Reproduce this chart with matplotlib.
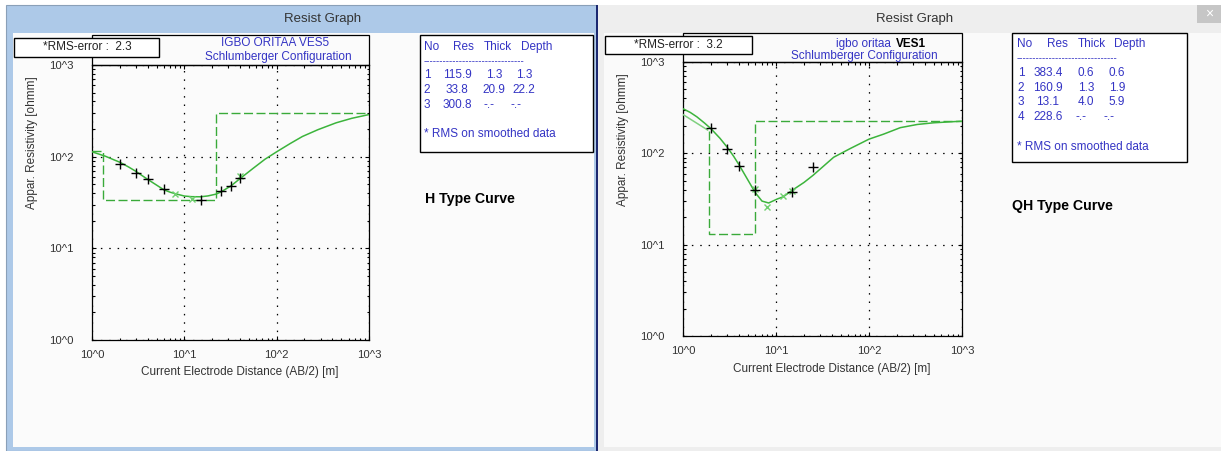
import math
import matplotlib
matplotlib.use("Agg")
import matplotlib.pyplot as plt
from matplotlib.patches import Rectangle
from matplotlib.ticker import FixedLocator, FuncFormatter, LogLocator, NullFormatter

plt.rcParams['font.family'] = ['Liberation Sans', 'DejaVu Sans']

# ---- VES5 (H type) ----
obs_ab2_5 = [2, 3, 4, 6, 15, 25, 32, 40]
obs_rho_5 = [83, 66.7, 57.5, 44.6, 33.3, 42.4, 48.4, 58.5]
smo_ab2_5 = [8, 12, 40]
smo_rho_5 = [38.7, 34.2, 61.5]
fit_ab2_5 = [1, 1.4, 1.7, 2, 2.5, 3, 3.5, 4, 5, 6, 7, 8, 10, 12, 15, 18, 22, 25, 32, 40,
             56, 75, 100, 140, 190, 280, 440, 650, 1000]
fit_rho_5 = [113, 101, 93, 87, 77, 69, 62, 56.6, 49, 43.5, 41, 39.4, 37.2, 36.6, 36.5, 37.3, 39, 41.3, 48, 57.5,
             75, 94, 113, 139, 166, 197, 234, 262, 288]
mod_ab2_5 = [1, 1.3, 1.3, 22.2, 22.2, 1000]
mod_rho_5 = [115.9, 115.9, 33.8, 33.8, 300.8, 300.8]
layers_5 = [("1", "115.9", "1.3", "1.3"),
            ("2", "33.8", "20.9", "22.2"),
            ("3", "300.8", "-.-", "-.-")]

# ---- VES1 (QH type) ----
obs_ab2_1 = [2, 3, 4, 6, 15, 25]
obs_rho_1 = [191, 112, 73, 39.5, 37.3, 71.3]
smo_ab2_1 = [6, 8, 12, 15]
smo_rho_1 = [41, 26, 34.4, 39]
fit_ab2_1 = [1, 1.2, 1.41, 1.7, 2, 2.5, 3, 3.5, 4, 4.88, 5.5, 6, 7.07, 8.34, 10.3, 12, 15, 20, 25,
             41.7, 63, 100, 143, 217, 330, 496, 1000]
fit_rho_1 = [308, 280, 251, 215, 186, 146, 116, 93, 75, 53, 43, 37, 30, 28.6, 31.6, 33.5, 39.5, 48, 57.4,
             90.6, 113, 143, 162, 191, 207, 216, 225]
top_ab2_1 = [1, 1.84]
top_rho_1 = [266, 180]
mod_ab2_1 = [1.9, 1.9, 5.9, 5.9, 1000]
mod_rho_1 = [176, 13.1, 13.1, 228.6, 228.6]
layers_1 = [("1", "383.4", "0.6", "0.6"),
            ("2", "160.9", "1.3", "1.9"),
            ("3", "13.1", "4.0", "5.9"),
            ("4", "228.6", "-.-", "-.-")]

W, H = 1221, 451
fig = plt.figure(figsize=(W / 100, H / 100), dpi=100)
fig.patch.set_facecolor("white")

BLUE = "#3434c4"
TXT = "#333333"
FS = 8.5


def box(x0, y0, x1, y1, **kw):
    kw.setdefault("lw", 0)
    fig.patches.append(Rectangle((x0 / W, 1 - y1 / H), (x1 - x0) / W, (y1 - y0) / H,
                                 transform=fig.transFigure, **kw))


def txt(x, y, s, **kw):
    kw.setdefault("fontsize", FS)
    kw.setdefault("va", "center")
    return fig.text(x / W, 1 - y / H, s, **kw)


# window frames
box(6, 5, 597, 451, fc="#adc9e8", ec="#8aa0b8", lw=0.8, zorder=-10)
box(13, 33, 594, 447, fc="#fbfbfb", zorder=-9)
box(595.5, 5, 597.8, 451, fc="#1c2870", zorder=-9)
box(598, 5, 1221, 451, fc="#eeeeee", zorder=-10)
box(604, 33, 1221, 447, fc="#fafafa", zorder=-9)
box(1197, 5, 1221, 23, fc="#c6c6c6", zorder=-8)
txt(1209, 14, "\u00d7", color="white", fontsize=10, ha="center")
txt(323, 19, "Resist Graph", fontsize=9.5, color=TXT, ha="center")
txt(915, 19, "Resist Graph", fontsize=9.5, color=TXT, ha="center")


def decade_label(v, pos):
    return "10^%d" % round(math.log10(v))


def panel(px, obs, smo, fit, mod, extra=None):
    x0, y0, x1, y1 = px
    ax = fig.add_axes([x0 / W, 1 - y1 / H, (x1 - x0) / W, (y1 - y0) / H])
    ax.set_facecolor("none")
    ax.set_xscale("log")
    ax.set_yscale("log")
    ax.set_xlim(1, 1000)
    ax.set_ylim(1, 1000)
    for axis in (ax.xaxis, ax.yaxis):
        axis.set_major_locator(FixedLocator([1, 10, 100, 1000]))
        axis.set_major_formatter(FuncFormatter(decade_label))
        axis.set_minor_locator(LogLocator(base=10, subs=range(2, 10)))
        axis.set_minor_formatter(NullFormatter())
    ax.tick_params(which="both", direction="in", top=True, right=True, colors="black",
                   labelcolor=TXT, labelsize=8.2, width=0.8)
    ax.tick_params(which="major", length=3)
    ax.tick_params(which="minor", length=1.8)
    ax.tick_params(axis="y", pad=13.5)
    ax.tick_params(axis="x", pad=7)
    for sp in ax.spines.values():
        sp.set_color("black")
        sp.set_linewidth(0.9)
    ax.grid(True, which="major", color="black", lw=0.9, ls=(0, (1.2, 5.5)))
    ax.plot(mod[0], mod[1], color="#3aaa3a", lw=1.0, ls=(0, (6.5, 2.5)), zorder=3)
    if extra is not None:
        ax.plot(extra[0], extra[1], color="#7fd07f", lw=1.1, zorder=3)
    ax.plot(fit[0], fit[1], color="#3cb43c", lw=1.1, zorder=4)
    ax.plot(smo[0], smo[1], ls="none", marker="x", ms=4.5, mew=1.0, color="#6fcf6f", zorder=5)
    ax.plot(obs[0], obs[1], ls="none", marker="+", ms=6.5, mew=1.0, color="black", zorder=6)
    # title box above the plot
    box(x0, y0 - 30 + (0 if y0 > 63 else 1), x1, y0, fc="none", ec="black", lw=0.9, zorder=3)
    return ax


panel((92, 65, 369, 340), (obs_ab2_5, obs_rho_5), (smo_ab2_5, smo_rho_5),
      (fit_ab2_5, fit_rho_5), (mod_ab2_5, mod_rho_5))
panel((683, 62, 962, 336), (obs_ab2_1, obs_rho_1), (smo_ab2_1, smo_rho_1),
      (fit_ab2_1, fit_rho_1), (mod_ab2_1, mod_rho_1), extra=(top_ab2_1, top_rho_1))

# axis labels
txt(240, 372, "Current Electrode Distance (AB/2) [m]", color=TXT, ha="center")
txt(832, 369, "Current Electrode Distance (AB/2) [m]", color=TXT, ha="center")
txt(32, 143, "Appar. Resistivity [ohmm]", color=TXT, ha="center", rotation=90)
txt(623, 140, "Appar. Resistivity [ohmm]", color=TXT, ha="center", rotation=90)

# titles
txt(275, 43, "IGBO ORITAA VES5", color=BLUE, ha="center")
txt(278, 57, "Schlumberger Configuration", color=BLUE, ha="center")
txt(836, 44, "igbo oritaa ", color=BLUE, ha="left")
txt(896, 44, "VES1", color="black", ha="left", fontweight="bold")
txt(864, 56, "Schlumberger Configuration", color=BLUE, ha="center")

# RMS boxes
box(14, 38, 159, 57, fc="white", ec="black", lw=1, zorder=8)
txt(87, 47.5, "*RMS-error :  2.3", color="#222222", ha="center", zorder=9)
box(605, 36, 752, 54, fc="white", ec="black", lw=1, zorder=8)
txt(678, 45, "*RMS-error :  3.2", color="#222222", ha="center", zorder=9)


def table(px, hdr_x, hdr_y, cols, dash_y, row_y, rows, note_y):
    x0, y0, x1, y1 = px
    box(x0, y0, x1, y1, fc="white", ec="black", lw=1, zorder=2)
    for s, hx in zip(("No", "Res", "Thick", "Depth"), hdr_x):
        txt(hx, hdr_y, s, color=BLUE, ha="left")
    txt(hdr_x[0], dash_y, "-" * 31, color=BLUE, ha="left", fontsize=7)
    for r, yy in zip(rows, row_y):
        for j, s in enumerate(r):
            cx = cols[j]
            if s == "-.-":
                cx = cols[j] - (5 if j == 2 else 8)
            txt(cx, yy, s, color=BLUE, ha="center")
    txt(hdr_x[0], note_y, "* RMS on smoothed data", color=BLUE, ha="left")


table((420, 35, 593, 152), (424, 453, 484, 521), 47, [427, 457, 494, 524], 61,
      [75, 90, 105], layers_5, 134)
table((1012, 33, 1187, 162), (1017, 1047, 1078, 1114), 44, [1021, 1048, 1086, 1117], 58,
      [73, 88, 102, 117], layers_1, 147)

txt(425, 199, "H Type Curve", color="black", ha="left", fontweight="bold", fontsize=10.2)
txt(1012, 206, "QH Type Curve", color="black", ha="left", fontweight="bold", fontsize=10.2)

fig.savefig("out.png", dpi=100, facecolor=fig.get_facecolor())
